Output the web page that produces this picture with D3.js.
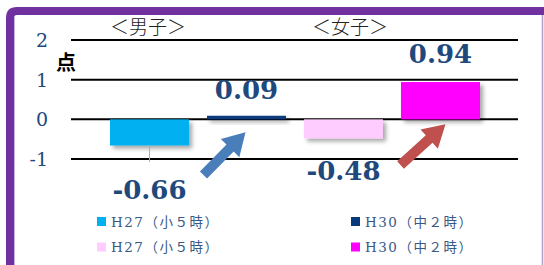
<!DOCTYPE html>
<html>
<head>
<meta charset="utf-8">
<script src="https://cdn.jsdelivr.net/npm/d3@7"></script>
<style>
  body { margin: 0; background: #fff; }
  svg { display: block; }
</style>
</head>
<body>
<script>
// data
const groups = ["男子", "女子"];
const years = ["H27（小５時）", "H30（中２時）"];
const boysValues = [-0.66, 0.09];
const girlsValues = [-0.48, 0.94];
const yTicks = [-1, 0, 1, 2];
const colors = {"男子": ["#00B0F0", "#073A7C"], "女子": ["#FFCCFF", "#FF00FF"]};

let width = 544, height = 265;
let svg = d3.select("body").append("svg").attr("width", width).attr("height", height);

let defs = svg.append("defs");
defs.append("filter").attr("id", "shadow").attr("x", "-20%").attr("y", "-50%").attr("width", "140%").attr("height", "300%")
  .append("feDropShadow").attr("dx", 3).attr("dy", 3).attr("stdDeviation", 2.2)
  .attr("flood-color", "#000").attr("flood-opacity", 0.35);

// frame
svg.append("path").attr("d", "M10,270 V18 Q10,11 17,11 H546")
  .attr("fill", "none").attr("stroke", "#7030A0").attr("stroke-width", 8);
svg.append("line").attr("x1", 14.5).attr("x2", 14.5).attr("y1", 16).attr("y2", 265)
  .attr("stroke", "#C8B3DC").attr("stroke-width", 1);
svg.append("line").attr("x1", 542.5).attr("x2", 542.5).attr("y1", 15).attr("y2", 265)
  .attr("stroke", "#B39BCB").attr("stroke-width", 1.5);

let y = d3.scaleLinear().domain([-1, 2]).range([159, 40]);
let x0 = d3.scaleBand().domain(groups).range([110, 480]).paddingInner(18 / 194).paddingOuter(0);
let x1 = d3.scaleBand().domain(years).range([0, x0.bandwidth()]).paddingInner(18 / 97).paddingOuter(0);

// gridlines
svg.append("g").selectAll("line").data(yTicks).join("line")
  .attr("x1", 71).attr("x2", 518)
  .attr("y1", d => y(d)).attr("y2", d => y(d))
  .attr("stroke", "#000").attr("stroke-width", 2);

svg.append("g").selectAll("text").data(yTicks).join("text")
  .attr("x", 48).attr("y", d => y(d)).attr("dy", "0.36em")
  .attr("text-anchor", "end")
  .attr("font-family", "'DejaVu Serif', serif").attr("font-size", 19)
  .attr("fill", "#1F497D")
  .text(d => d);

svg.append("text").attr("x", 66).attr("y", 70).attr("text-anchor", "middle")
  .attr("font-family", "'Noto Sans CJK JP'").attr("font-weight", "bold").attr("font-size", 20)
  .text("点");

let bars = [];
groups.forEach((g, gi) => {
  let vals = gi == 0 ? boysValues : girlsValues;
  years.forEach((yr, yi) => bars.push({group: g, year: yr, yi: yi, value: vals[yi]}));
});

svg.append("g").selectAll("rect").data(bars).join("rect")
  .attr("x", d => x0(d.group) + x1(d.year))
  .attr("width", x1.bandwidth())
  .attr("y", d => y(Math.max(0, d.value)))
  .attr("height", d => Math.abs(y(d.value) - y(0)))
  .attr("fill", d => colors[d.group][d.yi])
  .attr("filter", "url(#shadow)");

// leader line for -0.66
let b0 = bars[0];
svg.append("line")
  .attr("x1", x0(b0.group) + x1(b0.year) + x1.bandwidth() / 2)
  .attr("x2", x0(b0.group) + x1(b0.year) + x1.bandwidth() / 2)
  .attr("y1", y(b0.value)).attr("y2", y(-1) + 3)
  .attr("stroke", "#8EB4E3").attr("stroke-width", 1);

// value labels
let labelDy = [53, -17, 42, -19];
svg.append("g").selectAll("text").data(bars).join("text")
  .attr("x", d => x0(d.group) + x1(d.year) + x1.bandwidth() / 2)
  .attr("y", (d, i) => y(d.value) + labelDy[i])
  .attr("text-anchor", "middle")
  .attr("font-family", "'DejaVu Serif', serif").attr("font-weight", "bold").attr("font-size", 26)
  .attr("fill", "#1F497D")
  .text(d => d.value.toFixed(2));

// group titles
svg.append("g").selectAll("text").data(groups).join("text")
  .attr("x", (d, i) => x0(d) + (i == 0 ? 38 : 46))
  .attr("y", 34)
  .attr("text-anchor", "middle")
  .attr("font-family", "'Noto Sans CJK JP'").attr("font-size", 19).attr("font-weight", 300)
  .attr("fill", "#222")
  .text(d => "＜" + d + "＞");

// arrows
function arrow(xa, ya, xb, yb) {
  let dx = xb - xa, dy = yb - ya, len = Math.hypot(dx, dy);
  let ux = dx / len, uy = dy / len, px = -uy, py = ux;
  let sw = 5, hw = 13, hl = 22;
  let bx = xb - ux * hl, by = yb - uy * hl;
  let pts = [
    [xa + px * sw, ya + py * sw], [bx + px * sw, by + py * sw], [bx + px * hw, by + py * hw],
    [xb, yb], [bx - px * hw, by - py * hw], [bx - px * sw, by - py * sw], [xa - px * sw, ya - py * sw]
  ];
  return d3.line()(pts) + "Z";
}
let cx = (g, yr) => x0(g) + x1(yr) + x1.bandwidth() / 2;
svg.append("path").attr("d", arrow(cx("男子", years[1]) - 43, y(-1) + 16, cx("男子", years[1]) - 1, y(0) + 13))
  .attr("fill", "#4A7EBB");
svg.append("path").attr("d", arrow(cx("女子", years[1]) - 40, y(-1) + 6, cx("女子", years[1]) + 5, y(0) + 5))
  .attr("fill", "#C0504D");

// legend
let legendItems = [
  {color: colors["男子"][0], label: years[0], col: 0, row: 0},
  {color: colors["男子"][1], label: years[1], col: 1, row: 0},
  {color: colors["女子"][0], label: years[0], col: 0, row: 1},
  {color: colors["女子"][1], label: years[1], col: 1, row: 1}
];
let lg = svg.append("g").selectAll("g").data(legendItems).join("g")
  .attr("transform", d => `translate(${97 + d.col * 254},${217 + d.row * 25.5})`);
lg.append("rect").attr("width", 9).attr("height", 9).attr("fill", d => d.color);
lg.append("text").attr("x", 14).attr("y", 9.5)
  .attr("font-family", "'DejaVu Serif', 'Noto Sans CJK JP', serif").attr("font-size", 13.5)
  .attr("letter-spacing", 1.5)
  .attr("fill", "#3A5A85")
  .text(d => d.label);
</script>
</body>
</html>
